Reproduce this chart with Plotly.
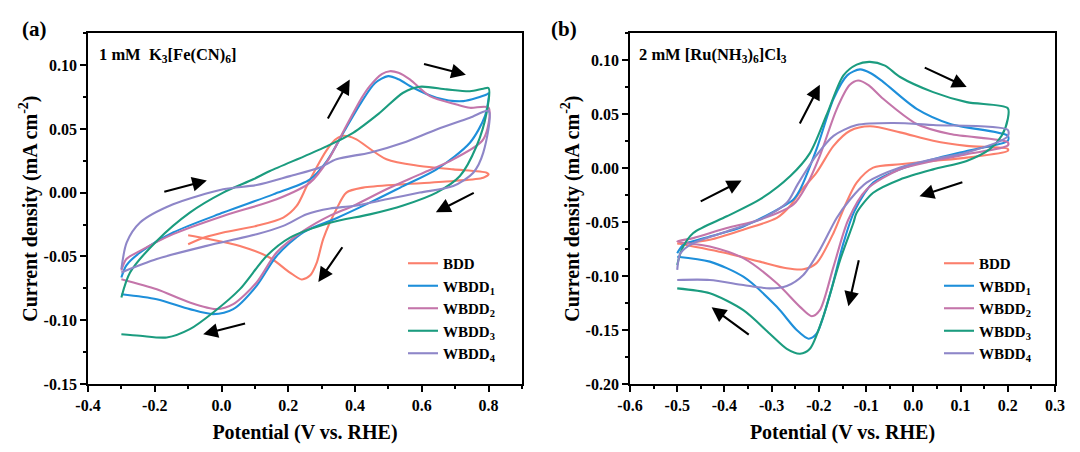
import plotly.graph_objects as go

# ---- panel (a): 1 mM K3[Fe(CN)6] ----
a_bdd_v = [-0.1, -0.05, 0.005, 0.105, 0.185, 0.225, 0.255, 0.285, 0.314, 0.34, 0.36, 0.38, 0.404, 0.494, 0.594, 0.694, 0.794, 0.8,
           0.784, 0.694, 0.544, 0.424, 0.374, 0.344, 0.305, 0.285, 0.265, 0.24, 0.205, 0.145, 0.055, -0.045, -0.1]
a_bdd_j = [-0.0404, -0.035, -0.0312, -0.026, -0.0195, -0.0104, 0.005, 0.020, 0.033, 0.0415, 0.0445, 0.0443, 0.0418, 0.0262, 0.021, 0.0183, 0.0157, 0.0145,
           0.0118, 0.0092, 0.0066, 0.004, 0.0001, -0.013, -0.036, -0.055, -0.065, -0.068, -0.0626, -0.051, -0.0417, -0.036, -0.0334]

a_w1_v = [-0.3, -0.285, -0.244, -0.145, 0.005, 0.155, 0.265, 0.316, 0.367, 0.419, 0.46, 0.499, 0.53, 0.574, 0.644, 0.724, 0.794, 0.8,
          0.789, 0.744, 0.644, 0.544, 0.444, 0.344, 0.245, 0.165, 0.105, 0.035, -0.025, -0.095, -0.194, -0.3]
a_w1_j = [-0.0665, -0.057, -0.0469, -0.0312, -0.0156, -0.0013, 0.0105, 0.025, 0.048, 0.071, 0.086, 0.0914, 0.089, 0.0823, 0.0745, 0.0718, 0.077, 0.078,
          0.060, 0.0392, 0.0183, 0.0052, -0.0078, -0.020, -0.031, -0.0496, -0.073, -0.0913, -0.0952, -0.0913, -0.0835, -0.0796]

a_w2_v = [-0.3, -0.285, -0.244, -0.145, 0.005, 0.165, 0.265, 0.32, 0.367, 0.419, 0.444, 0.48, 0.504, 0.53, 0.564, 0.624, 0.704, 0.744, 0.8,
          0.784, 0.694, 0.594, 0.494, 0.394, 0.325, 0.245, 0.165, 0.105, 0.035, -0.015, -0.095, -0.194, -0.3]
a_w2_j = [-0.061, -0.052, -0.0456, -0.0325, -0.0182, -0.0052, 0.0079, 0.026, 0.049, 0.074, 0.0836, 0.093, 0.0953, 0.094, 0.0888, 0.0757, 0.0692, 0.0666, 0.0666,
          0.0418, 0.0262, 0.0144, 0.0027, -0.0104, -0.018, -0.030, -0.0469, -0.0704, -0.0874, -0.0913, -0.0861, -0.0757, -0.0678]

a_w3_v = [-0.3, -0.274, -0.194, -0.095, 0.005, 0.095, 0.145, 0.295, 0.394, 0.474, 0.544, 0.594, 0.674, 0.744, 0.784, 0.8,
          0.794, 0.764, 0.714, 0.644, 0.544, 0.444, 0.325, 0.205, 0.135, 0.055, -0.025, -0.095, -0.164, -0.244, -0.3]
a_w3_j = [-0.0821, -0.0626, -0.0378, -0.0156, 0.0001, 0.0105, 0.017, 0.034, 0.047, 0.0627, 0.0784, 0.0831, 0.081, 0.0796, 0.0815, 0.082,
          0.0627, 0.0366, 0.0131, 0.0001, -0.010, -0.017, -0.0235, -0.0352, -0.0496, -0.0756, -0.0939, -0.107, -0.1135, -0.1122, -0.111]

a_w4_v = [-0.3, -0.284, -0.244, -0.145, 0.005, 0.105, 0.205, 0.295, 0.344, 0.444, 0.544, 0.644, 0.744, 0.8,
          0.784, 0.754, 0.694, 0.594, 0.494, 0.394, 0.325, 0.255, 0.185, 0.105, -0.045, -0.194, -0.3]
a_w4_j = [-0.060, -0.039, -0.0234, -0.0091, 0.0027, 0.006, 0.013, 0.0197, 0.0262, 0.0314, 0.0392, 0.0496, 0.0588, 0.064,
          0.0314, 0.0157, 0.0052, 0.0001, -0.0052, -0.0104, -0.0124, -0.0169, -0.026, -0.0326, -0.0417, -0.052, -0.0625]

# ---- panel (b): 2 mM [Ru(NH3)6]Cl3 ----
b_bdd_v = [-0.5, -0.431, -0.36, -0.289, -0.261, -0.24, -0.205, -0.169, -0.134, -0.092, -0.028, 0.042, 0.113, 0.2,
           0.2, 0.113, 0.042, -0.028, -0.085, -0.12, -0.145, -0.169, -0.205, -0.233, -0.268, -0.325, -0.395, -0.5]
b_bdd_j = [-0.070, -0.0664, -0.057, -0.046, -0.035, -0.022, -0.0041, 0.0207, 0.0347, 0.0388, 0.0332, 0.0254, 0.0207, 0.0178,
           0.016, 0.0098, 0.0067, 0.0036, 0.0005, -0.0134, -0.035, -0.060, -0.088, -0.0937, -0.0928, -0.0866, -0.0788, -0.0695]

b_w1_v = [-0.5, -0.487, -0.431, -0.36, -0.254, -0.24, -0.205, -0.169, -0.14, -0.113, -0.09, -0.064, 0.007, 0.078, 0.2,
          0.2, 0.113, 0.042, -0.028, -0.085, -0.125, -0.148, -0.176, -0.205, -0.222, -0.247, -0.289, -0.36, -0.431, -0.5]
b_w1_j = [-0.0788, -0.071, -0.0633, -0.054, -0.029, -0.020, 0.0176, 0.0643, 0.086, 0.0916, 0.088, 0.080, 0.055, 0.041, 0.030,
          0.0254, 0.016, 0.0083, -0.001, -0.0134, -0.040, -0.0694, -0.116, -0.1534, -0.158, -0.150, -0.1285, -0.1006, -0.0866, -0.082]

b_w2_v = [-0.5, -0.466, -0.395, -0.325, -0.254, -0.225, -0.198, -0.162, -0.135, -0.117, -0.095, -0.064, 0.007, 0.078, 0.2,
          0.2, 0.113, 0.042, -0.028, -0.099, -0.138, -0.169, -0.198, -0.215, -0.24, -0.289, -0.36, -0.431, -0.5]
b_w2_j = [-0.0679, -0.0648, -0.0555, -0.0477, -0.0337, -0.015, 0.0114, 0.055, 0.077, 0.0813, 0.077, 0.0643, 0.041, 0.0316, 0.024,
          0.021, 0.013, 0.0067, -0.001, -0.0197, -0.048, -0.0912, -0.1316, -0.1372, -0.1285, -0.1067, -0.0834, -0.0726, -0.0679]

b_w3_v = [-0.5, -0.49, -0.466, -0.395, -0.325, -0.26, -0.219, -0.183, -0.148, -0.12, -0.092, -0.06, -0.028, 0.042, 0.113, 0.2,
          0.2, 0.187, 0.162, 0.113, 0.042, -0.028, -0.085, -0.12, -0.127, -0.155, -0.191, -0.219, -0.24, -0.268, -0.304, -0.36, -0.431, -0.5]
b_w3_j = [-0.0897, -0.075, -0.0601, -0.0446, -0.029, -0.007, 0.014, 0.0500, 0.086, 0.096, 0.0985, 0.095, 0.0845, 0.0705, 0.0612, 0.0556,
          0.0456, 0.030, 0.0176, 0.0067, -0.0011, -0.0104, -0.0228, -0.0414, -0.0508, -0.085, -0.1379, -0.1674, -0.172, -0.1674, -0.1534, -0.1316, -0.116, -0.1114]

b_w4_v = [-0.5, -0.493, -0.466, -0.395, -0.325, -0.268, -0.245, -0.205, -0.169, -0.12, -0.042, 0.042, 0.2,
          0.2, 0.113, 0.042, -0.028, -0.099, -0.134, -0.162, -0.198, -0.233, -0.268, -0.304, -0.36, -0.431, -0.5]
b_w4_j = [-0.0943, -0.0787, -0.0694, -0.0586, -0.0477, -0.0321, -0.015, 0.012, 0.030, 0.040, 0.0419, 0.040, 0.0355,
          0.0296, 0.0145, 0.0083, 0.0006, -0.0134, -0.029, -0.046, -0.0757, -0.099, -0.1092, -0.1114, -0.1083, -0.1036, -0.1036]

names = ["BDD", "WBDD<sub>1</sub>", "WBDD<sub>2</sub>", "WBDD<sub>3</sub>", "WBDD<sub>4</sub>"]
colors = ["#FB7F6C", "#1E8FDA", "#C475AA", "#1B9C7F", "#8E86C8"]

# scan direction arrows: (tail_v, tail_j, head_v, head_j)
a_arrows = [(-0.176, 0.0005, -0.044, 0.0096), (0.316, 0.057, 0.384, 0.0888), (0.602, 0.1013, 0.732, 0.0925),
            (0.76, 0.0005, 0.642, -0.0153), (0.365, -0.0416, 0.290, -0.070), (0.075, -0.1023, -0.055, -0.1109)]
b_arrows = [(-0.4535, -0.0315, -0.3636, -0.0114), (-0.242, 0.040, -0.198, 0.0773), (0.021, 0.0938, 0.113, 0.0752),
            (0.107, -0.0125, 0.013, -0.026), (-0.1148, -0.084, -0.1375, -0.128), (-0.3453, -0.1552, -0.4272, -0.1289)]

a_xticks = [-0.4, -0.2, 0.0, 0.2, 0.4, 0.6, 0.8]
a_xlabels = ["-0.4", "-0.2", "0.0", "0.2", "0.4", "0.6", "0.8"]
a_yticks = [-0.15, -0.10, -0.05, 0.0, 0.05, 0.10]
a_ylabels = ["-0.15", "-0.10", "-0.05", "0.00", "0.05", "0.10"]
b_xticks = [-0.6, -0.5, -0.4, -0.3, -0.2, -0.1, 0.0, 0.1, 0.2, 0.3]
b_xlabels = ["-0.6", "-0.5", "-0.4", "-0.3", "-0.2", "-0.1", "0.0", "0.1", "0.2", "0.3"]
b_yticks = [-0.20, -0.15, -0.10, -0.05, 0.0, 0.05, 0.10]
b_ylabels = ["-0.20", "-0.15", "-0.10", "-0.05", "0.00", "0.05", "0.10"]

FONT = "Liberation Serif, Times New Roman, serif"
W, H = 1080, 452
OFF = 8  # page body margin shifts the figure, compensate here


def px(x):
    return (x - OFF) / W


def py(y):
    return 1 - (y - OFF) / H


fig = go.Figure()

a_series = [(a_bdd_v, a_bdd_j), (a_w1_v, a_w1_j), (a_w2_v, a_w2_j), (a_w3_v, a_w3_j), (a_w4_v, a_w4_j)]
b_series = [(b_bdd_v, b_bdd_j), (b_w1_v, b_w1_j), (b_w2_v, b_w2_j), (b_w3_v, b_w3_j), (b_w4_v, b_w4_j)]

for k, (v, j) in enumerate(a_series):
    fig.add_trace(go.Scatter(x=v, y=j, mode="lines", name=names[k], legend="legend",
                             line=dict(color=colors[k], width=2.1, shape="spline", smoothing=0.8),
                             xaxis="x", yaxis="y"))
for k, (v, j) in enumerate(b_series):
    fig.add_trace(go.Scatter(x=v, y=j, mode="lines", name=names[k], legend="legend2",
                             line=dict(color=colors[k], width=2.1, shape="spline", smoothing=0.8),
                             xaxis="x2", yaxis="y2"))


def axis(dom, rng, tv, tt, minor_dtick, title, anchor, standoff):
    return dict(domain=dom, range=rng, anchor=anchor, tickmode="array", tickvals=tv, ticktext=tt,
                automargin=False,
                showline=True, linecolor="black", linewidth=1.8, mirror=True,
                ticks="outside", ticklen=6, tickwidth=1.5, tickcolor="black",
                minor=dict(ticks="outside", ticklen=3.5, tickwidth=1.5, dtick=minor_dtick, tickcolor="black"),
                showgrid=False, zeroline=False,
                tickfont=dict(family=FONT, size=16, color="black", weight="bold"),
                title=dict(text=title, standoff=standoff, font=dict(family=FONT, size=20, color="black", weight="bold")))


ydom = [py(384), py(33.3)]
xt = "Potential (V vs. RHE)"
yt = "Current density (mA cm<sup>-2</sup>)"

annotations = [
    dict(text="(a)", x=px(34), y=py(29), xref="paper", yref="paper", xanchor="center", yanchor="middle",
         showarrow=False, font=dict(family=FONT, size=21, color="black", weight="bold")),
    dict(text="(b)", x=px(564), y=py(29), xref="paper", yref="paper", xanchor="center", yanchor="middle",
         showarrow=False, font=dict(family=FONT, size=21, color="black", weight="bold")),
    dict(text="1 mM&nbsp;&nbsp;K<sub>3</sub>[Fe(CN)<sub>6</sub>]", x=px(97), y=py(55), xref="paper", yref="paper",
         xanchor="left", yanchor="middle", showarrow=False,
         font=dict(family=FONT, size=16.5, color="black", weight="bold")),
    dict(text="2 mM [Ru(NH<sub>3</sub>)<sub>6</sub>]Cl<sub>3</sub>", x=px(637), y=py(55), xref="paper", yref="paper",
         xanchor="left", yanchor="middle", showarrow=False,
         font=dict(family=FONT, size=16.5, color="black", weight="bold")),
]
for arrows, xr, yr in [(a_arrows, "x", "y"), (b_arrows, "x2", "y2")]:
    for tv, tj, hv, hj in arrows:
        annotations.append(dict(x=hv, y=hj, ax=tv, ay=tj, xref=xr, yref=yr, axref=xr, ayref=yr, text="",
                                showarrow=True, arrowhead=2, arrowsize=1.4, arrowwidth=2.1, arrowcolor="black", standoff=0))

legend_style = dict(font=dict(family=FONT, size=15, color="black", weight="bold"), bgcolor="rgba(0,0,0,0)",
                    xanchor="left", yanchor="top", itemwidth=30, tracegroupgap=0)

fig.update_layout(
    width=W, height=H,
    margin=dict(l=0, r=0, t=0, b=0, autoexpand=False),
    paper_bgcolor="white", plot_bgcolor="white",
    xaxis=axis([px(88), px(522)], [-0.4, 0.9], a_xticks, a_xlabels, 0.1, xt, "y", 12),
    yaxis=axis(ydom, [-0.15, 0.125], a_yticks, a_ylabels, 0.025, yt, "x", 1),
    xaxis2=axis([px(630), px(1055)], [-0.6, 0.3], b_xticks, b_xlabels, 0.05, xt, "y2", 12),
    yaxis2=axis(ydom, [-0.2, 0.125], b_yticks, b_ylabels, 0.025, yt, "x2", 1),
    legend=dict(x=px(403), y=py(247), **legend_style),
    legend2=dict(x=px(939), y=py(247), **legend_style),
    annotations=annotations,
)

fig.write_html("out.html")
